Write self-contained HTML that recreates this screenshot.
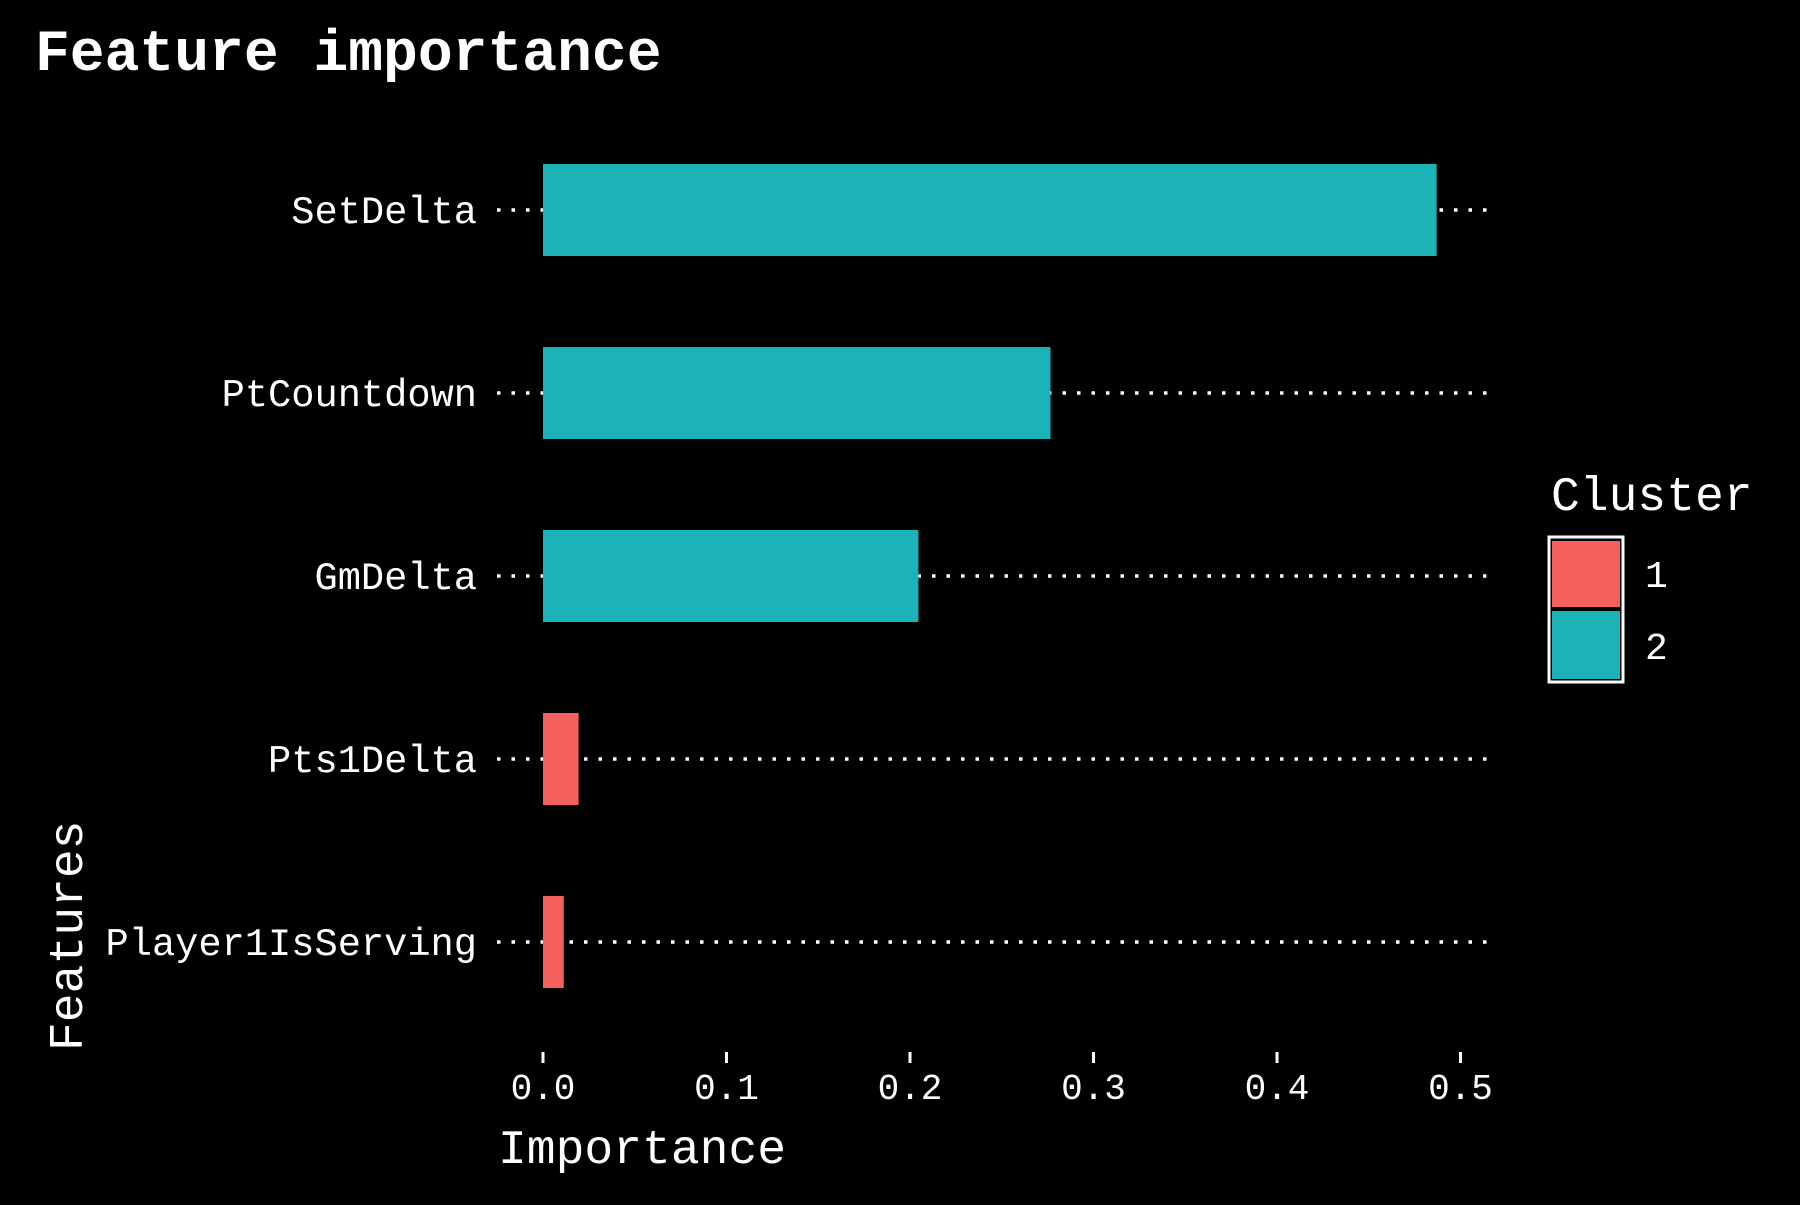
<!DOCTYPE html>
<html><head><meta charset="utf-8"><style>
html,body{margin:0;padding:0;background:#000;}
svg text{font-family:"Liberation Mono",monospace;fill:#fff;}
</style></head><body>
<svg id="chart" width="1800" height="1200" viewBox="0 0 1800 1200" xmlns="http://www.w3.org/2000/svg">
<rect width="1800" height="1200" fill="#000"/>
<text x="35" y="70" font-size="58" font-weight="bold">Feature importance</text>
<text x="498" y="1163" font-size="48">Importance</text>
<text transform="translate(82,1051) rotate(-90)" font-size="48">Features</text>
<g id="plot"></g>
<g>
<text x="1551" y="510" font-size="48">Cluster</text>
<rect x="1549" y="537" width="74" height="145" fill="none" stroke="#fff" stroke-width="3"/>
<rect x="1552" y="541" width="68" height="66" fill="#f4605c"/>
<rect x="1552" y="611" width="68" height="68" fill="#1bb3b8"/>
<text x="1645" y="587" font-size="38">1</text>
<text x="1645" y="659" font-size="38">2</text>
</g>
</svg>
<script>
const features = ["SetDelta","PtCountdown","GmDelta","Pts1Delta","Player1IsServing"];
const importance = [0.487,0.2766,0.2046,0.0194,0.0113];
const clusters = [2,2,2,1,1];
const xTicks = [0,0.1,0.2,0.3,0.4,0.5];
const xTickLabels = ["0.0","0.1","0.2","0.3","0.4","0.5"];

const NS="http://www.w3.org/2000/svg";
const g=document.getElementById('plot');
const x0=543, xPerUnit=1835;
const xs=v=>x0+v*xPerUnit;
const rowTop=210, rowStep=183, barH=92;
const ys=i=>rowTop+i*rowStep;
const colors={1:"#f4605c",2:"#1bb3b8"};
function mk(tag,attrs){const e=document.createElementNS(NS,tag);for(const k in attrs)e.setAttribute(k,attrs[k]);g.appendChild(e);return e;}
features.forEach((f,i)=>{
  const y=ys(i);
  const line=mk('line',{x1:497,x2:1492,y1:y,y2:y,stroke:"#fff","stroke-width":3.5,"stroke-dasharray":"3.5 11"});
  
  
  const b=mk('rect',{x:xs(0),y:y-barH/2,width:xs(importance[i])-xs(0),height:barH,fill:colors[clusters[i]]});
  
  
  const t=mk('text',{x:477,y:y+13,"font-size":38.7,"text-anchor":"end"});
  t.textContent=f;
  
  
});
xTicks.forEach((v,i)=>{
  const tk=mk('line',{x1:xs(v),x2:xs(v),y1:1052,y2:1063,stroke:"#fff","stroke-width":3});
  
  
  const t=mk('text',{x:xs(v),y:1099,"font-size":36,"text-anchor":"middle"});
  t.textContent=xTickLabels[i];
  
  
});
</script>
</body></html>
